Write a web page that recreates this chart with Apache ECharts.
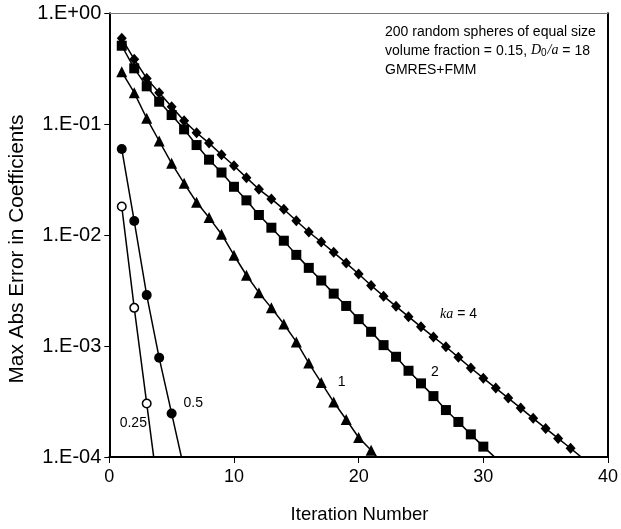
<!DOCTYPE html>
<html>
<head>
<meta charset="utf-8">
<script src="https://cdn.jsdelivr.net/npm/echarts@6/dist/echarts.min.js"></script>
<style>
html,body{margin:0;padding:0;background:#fff;}
#c{width:621px;height:529px;}
</style>
</head>
<body>
<div id="c"></div>
<script>
// ---- data ----
const iterKa4 = [1,2,3,4,5,6,7,8,9,10,11,12,13,14,15,16,17,18,19,20,21,22,23,24,25,26,27,28,29,30,31,32,33,34,35,36,37,38];
const errKa4 = [0.595,0.385,0.259,0.192,0.144,0.1076,0.0838,0.0676,0.0531,0.0422,0.033,0.0259,0.0212,0.0171,0.0135,0.01067,0.00867,0.0070,0.0056,0.00446,0.00352,0.00282,0.00228,0.00184,0.00149,0.00121,0.000986,0.000791,0.000634,0.000514,0.000418,0.00034,0.000276,0.000223,0.000181,0.000147,0.00012,0.0000968];

const iterKa2 = [1,2,3,4,5,6,7,8,9,10,11,12,13,14,15,16,17,18,19,20,21,22,23,24,25,26,27,28,29,30,31];
const errKa2 = [0.510,0.319,0.2197,0.1596,0.121,0.0899,0.0649,0.0479,0.0367,0.0273,0.0206,0.0152,0.01167,0.00891,0.00664,0.00507,0.0039,0.00297,0.0023,0.00175,0.001345,0.00102,0.000801,0.000599,0.000461,0.000354,0.000265,0.000207,0.00016,0.000124,0.0000977];

const iterKa1 = [1,2,3,4,5,6,7,8,9,10,11,12,13,14,15,16,17,18,19,20,21,22];
const errKa1 = [0.297,0.1923,0.113,0.0706,0.0444,0.0293,0.0198,0.0144,0.0102,0.00659,0.00435,0.00303,0.00221,0.00158,0.00109,0.000703,0.000469,0.000313,0.000218,0.00015,0.000115,0.0000845];

const iterKa05 = [1,2,3,4,5,6];
const errKa05 = [0.0597,0.0134,0.00288,0.000784,0.000247,0.0000778];

const iterKa025 = [1,2,3,4];
const errKa025 = [0.0181,0.00221,0.000304,0.0000418];

const xTicks = [0,10,20,30,40];
const yTickValues = [1e-4,1e-3,1e-2,1e-1,1];
const yTickLabels = ['1.E-04','1.E-03','1.E-02','1.E-01','1.E+00'];

const seriesLabels = ['0.25','0.5','1','2','4'];
const noteLines = ['200 random spheres of equal size','volume fraction = 0.15, ','GMRES+FMM'];

// ---- chart ----
const FONT = 'Liberation Sans, Arial, sans-serif';
function pairs(xs, ys){ return xs.map((x,i)=>[x, ys[i]]); }
function labelFor(v){
  let best = 0, bd = Infinity;
  yTickValues.forEach((t,i)=>{ const d = Math.abs(Math.log10(v)-Math.log10(t)); if(d<bd){bd=d;best=i;} });
  return bd < 1e-6 ? yTickLabels[best] : '';
}
const lineStyle = {color:'#000', width:1.5};

const chart = echarts.init(document.getElementById('c'), null, {renderer:'canvas'});
chart.setOption({
  backgroundColor:'#fff',
  animation:false,
  grid:{left:109.3, right:12.3, top:13.3, bottom:72, containLabel:false},
  xAxis:[{
    type:'value', min:xTicks[0], max:xTicks[xTicks.length-1], interval:10,
    axisLine:{show:true, onZero:false, lineStyle:{color:'#000', width:2}},
    axisTick:{show:true, inside:false, length:6, lineStyle:{color:'#000', width:1}},
    axisLabel:{show:true, margin:11, color:'#000', fontSize:18, fontFamily:FONT},
    splitLine:{show:false}
  },{
    type:'value', position:'top', min:0, max:40,
    axisLine:{show:true, onZero:false, lineStyle:{color:'#777', width:1}},
    axisTick:{show:false}, axisLabel:{show:false}, splitLine:{show:false}
  }],
  yAxis:[{
    type:'log', logBase:10, min:yTickValues[0], max:yTickValues[yTickValues.length-1],
    axisLine:{show:true, onZero:false, lineStyle:{color:'#000', width:2}},
    axisTick:{show:true, inside:false, length:5, lineStyle:{color:'#000', width:1}},
    minorTick:{show:false},
    axisLabel:{show:true, margin:8, color:'#000', fontSize:20, fontFamily:FONT, formatter:(v)=>labelFor(v)},
    splitLine:{show:false}
  },{
    type:'log', logBase:10, position:'right', min:1e-4, max:1,
    axisLine:{show:true, onZero:false, lineStyle:{color:'#000', width:2}},
    axisTick:{show:false}, axisLabel:{show:false}, splitLine:{show:false}
  }],
  series:[
    {type:'line', name:'ka=4', data:pairs(iterKa4, errKa4), symbol:'diamond', symbolSize:[10,11], showAllSymbol:true,
     itemStyle:{color:'#000'}, lineStyle:lineStyle, clip:true},
    {type:'line', name:'ka=2', data:pairs(iterKa2, errKa2), symbol:'rect', symbolSize:10, showAllSymbol:true,
     itemStyle:{color:'#000'}, lineStyle:lineStyle, clip:true},
    {type:'line', name:'ka=1', data:pairs(iterKa1, errKa1), symbol:'triangle', symbolSize:11, showAllSymbol:true,
     itemStyle:{color:'#000'}, lineStyle:lineStyle, clip:true},
    {type:'line', name:'ka=0.5', data:pairs(iterKa05, errKa05), symbol:'circle', symbolSize:10, showAllSymbol:true,
     itemStyle:{color:'#000'}, lineStyle:lineStyle, clip:true},
    {type:'line', name:'ka=0.25', data:pairs(iterKa025, errKa025), symbol:'circle', symbolSize:8.5, showAllSymbol:true,
     itemStyle:{color:'#fff', borderColor:'#000', borderWidth:1.5}, lineStyle:lineStyle, clip:true}
  ],
  graphic:[
    {type:'text', x:17.5, y:249, rotation:Math.PI/2, style:{text:'Max Abs Error in Coefficients', fill:'#000', font:'20.8px '+FONT, align:'center', verticalAlign:'middle'}},
    {type:'text', x:359.5, y:515, style:{text:'Iteration Number', fill:'#000', font:'18.5px '+FONT, align:'center', verticalAlign:'middle'}},
    {type:'text', x:385, y:31.7, style:{text:noteLines[0], fill:'#000', font:'14px '+FONT, verticalAlign:'middle'}},
    {type:'text', x:385, y:50.7, style:{text:noteLines[1]+'{i|D}{s|0}{i|/a} = 18', fill:'#000', font:'14px '+FONT, verticalAlign:'middle',
      rich:{i:{fontStyle:'italic', fontSize:14, fontFamily:'Liberation Serif, serif', fill:'#000'}, s:{fontSize:10, fontFamily:FONT, padding:[5,1,0,0], fill:'#000'}}}},
    {type:'text', x:385, y:70, style:{text:noteLines[2], fill:'#000', font:'14px '+FONT, verticalAlign:'middle'}},
    {type:'text', x:133.3, y:423.3, style:{text:seriesLabels[0], fill:'#000', font:'14px '+FONT, align:'center', verticalAlign:'middle'}},
    {type:'text', x:193.3, y:402.7, style:{text:seriesLabels[1], fill:'#000', font:'14px '+FONT, align:'center', verticalAlign:'middle'}},
    {type:'text', x:341.7, y:381.7, style:{text:seriesLabels[2], fill:'#000', font:'14px '+FONT, align:'center', verticalAlign:'middle'}},
    {type:'text', x:435, y:371.7, style:{text:seriesLabels[3], fill:'#000', font:'14px '+FONT, align:'center', verticalAlign:'middle'}},
    {type:'text', x:458.6, y:314, style:{text:'{i|ka} = '+seriesLabels[4], fill:'#000', font:'14px '+FONT, align:'center', verticalAlign:'middle',
      rich:{i:{fontStyle:'italic', fontSize:14, fontFamily:'Liberation Serif, serif', fill:'#000'}}}}
  ]
});
</script>
</body>
</html>
